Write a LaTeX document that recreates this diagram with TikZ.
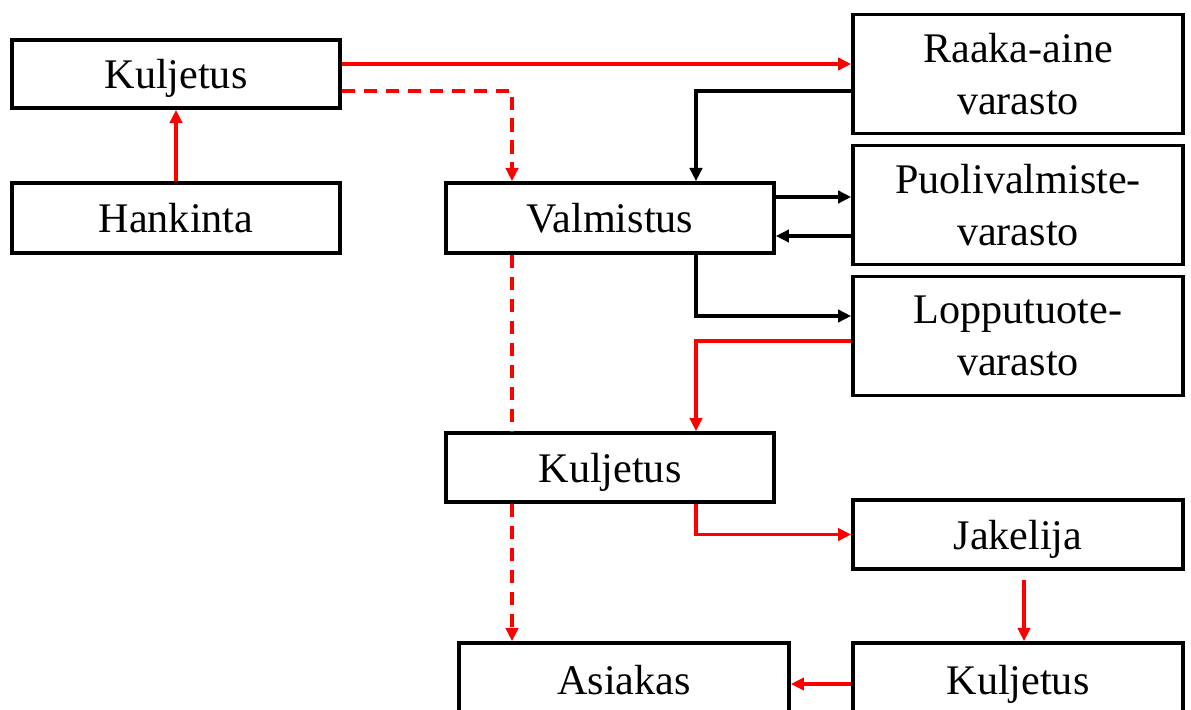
\documentclass[tikz,border=0pt]{standalone}
\usepackage{fontspec}
\setmainfont{Liberation Serif}
\usetikzlibrary{arrows.meta,calc}
\definecolor{myred}{RGB}{255,0,0}
\begin{document}
\begin{tikzpicture}[x=0.02cm,y=-0.02cm,
  box/.style={draw=black,line width=2.1pt,inner sep=0pt,align=center,
    font=\fontsize{24}{29.5}\selectfont},
  one/.style={box,text depth=0pt},
  conn/.style={line width=2pt,-{Triangle[length=7.5pt,width=7pt]}},
  redc/.style={conn,draw=myred},
  blkc/.style={conn,draw=black},
  dsh/.style={dash pattern=on 7.5pt off 5pt}]
\useasboundingbox (0,0) rectangle (1191,710);
\clip (0,0) rectangle (1191,710);
\node[one,minimum width=6.56cm,minimum height=1.36cm] (kul1) at (176,74) {Kuljetus};
\node[one,minimum width=6.56cm,minimum height=1.4cm] (hank) at (176,218) {Hankinta};
\node[box,minimum width=6.6cm,minimum height=2.38cm] (raaka) at (1018,74) {Raaka-aine\\varasto};
\node[one,minimum width=6.56cm,minimum height=1.4cm] (valm) at (610,218) {Valmistus};
\node[box,minimum width=6.6cm,minimum height=2.38cm] (puoli) at (1018,205) {Puolivalmiste-\\varasto};
\node[box,minimum width=6.6cm,minimum height=2.38cm] (loppu) at (1018,336) {Lopputuote-\\varasto};
\node[one,minimum width=6.56cm,minimum height=1.38cm] (kul2) at (610,467.5) {Kuljetus};
\node[one,minimum width=6.6cm,minimum height=1.38cm] (jak) at (1018,534.5) {Jakelija};
\node[one,minimum width=6.6cm,minimum height=1.48cm] (asiak) at (624,680) {Asiakas};
\node[one,minimum width=6.6cm,minimum height=1.48cm] (kul3) at (1018,680) {Kuljetus};

% connectors
\draw[redc] (hank.north) -- (kul1.south);
\coordinate (a1) at ($(kul1.east)+(0,-10)$);
\draw[redc] (a1) -- (raaka.west |- a1);
\coordinate (a2) at ($(kul1.east)+(0,17)$);
\coordinate (a3) at ($(valm.north)+(-98,0)$);
\draw[redc,dsh] (a2) -| (a3);
\coordinate (b1) at ($(kul1.east)+(0,17)$);
\coordinate (b2) at ($(valm.north)+(86,0)$);
\draw[blkc] (raaka.west |- b1) -| (b2);
\coordinate (b3) at ($(valm.east)+(0,-21)$);
\draw[blkc] (b3) -- (puoli.west |- b3);
\coordinate (b4) at ($(valm.east)+(0,18)$);
\draw[blkc] (puoli.west |- b4) -- (b4);
\coordinate (b5) at ($(valm.south)+(86,0)$);
\coordinate (b6) at ($(loppu.west)+(0,-20)$);
\draw[blkc] (b5) |- (b6);
\coordinate (c1) at ($(loppu.west)+(0,5)$);
\coordinate (c2) at ($(kul2.north)+(86,0)$);
\draw[redc] (c1) -| (c2);
\coordinate (d1) at ($(valm.south)+(-98,0)$);
\coordinate (d2) at ($(kul2.north)+(-98,0)$);
\draw[myred,line width=2pt,dsh] (d1) -- (d2);
\coordinate (d3) at ($(kul2.south)+(-98,0)$);
\draw[redc,dsh] (d3) -- (d3 |- asiak.north);
\coordinate (e1) at ($(kul2.south)+(86,0)$);
\draw[redc] (e1) |- (jak.west);
\coordinate (e2) at ($(jak.south)+(6,9)$);
\draw[redc] (e2) -- (e2 |- kul3.north);
\coordinate (e3) at ($(kul3.west)+(0,4)$);
\draw[redc] (e3) -- (asiak.east |- e3);
\end{tikzpicture}
\end{document}
